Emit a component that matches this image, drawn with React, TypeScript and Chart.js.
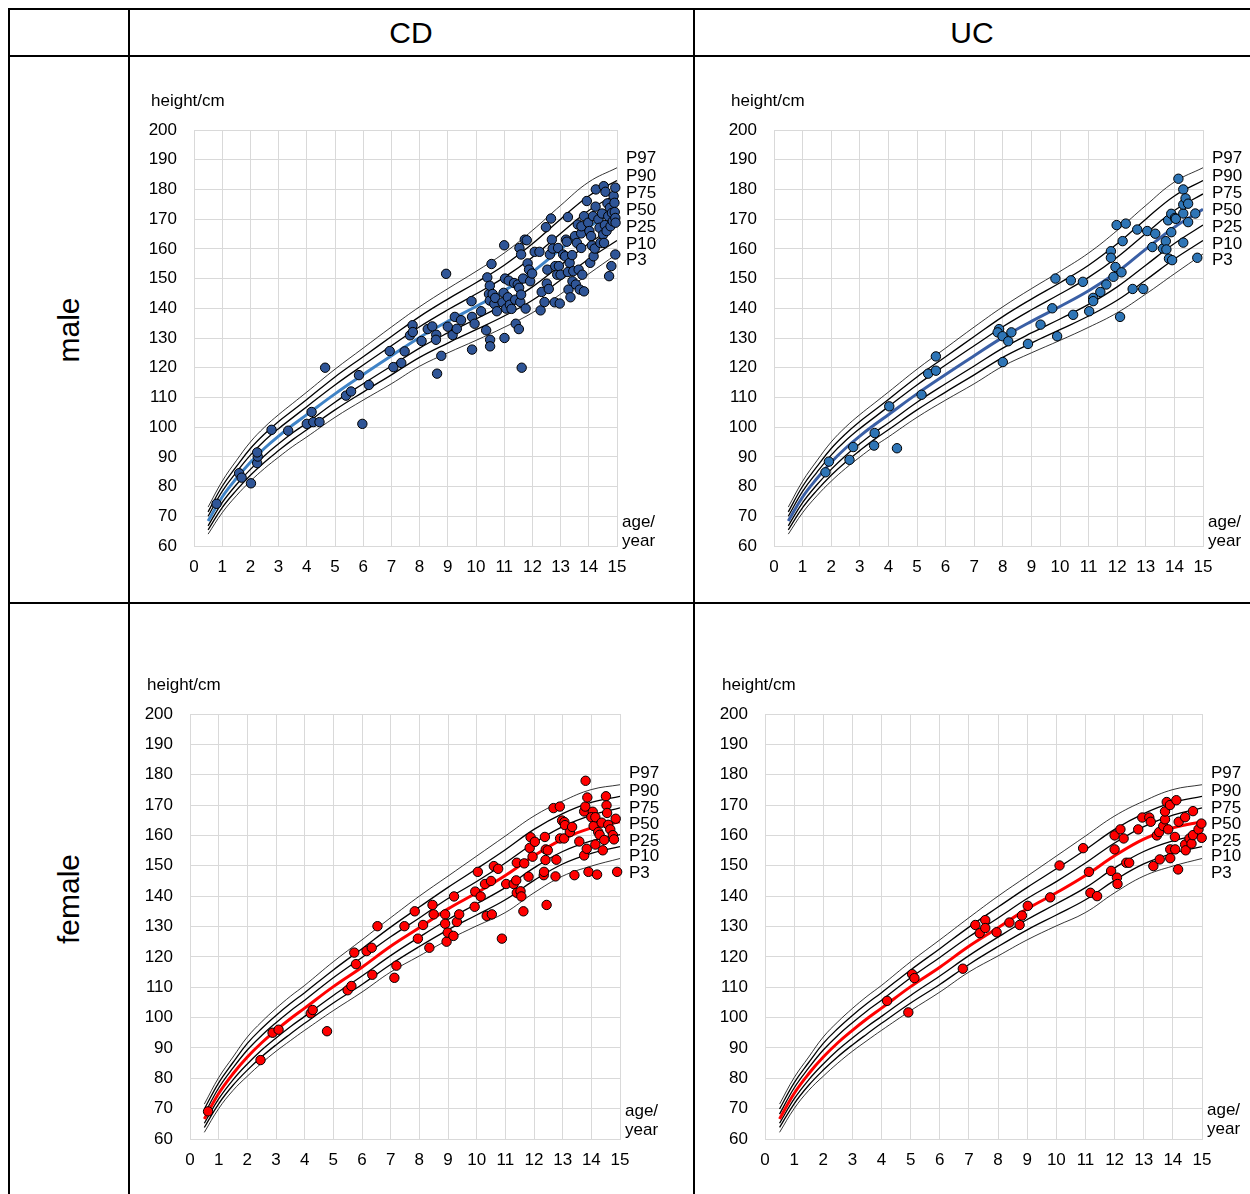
import React, { useEffect, useRef } from "react";
import { Chart, registerables } from "chart.js";
Chart.register(...registerables);

const FONT = "'Liberation Sans', Arial, Helvetica, sans-serif";

// ---------- data ----------
const percentileNames = ["P97", "P90", "P75", "P50", "P25", "P10", "P3"];
const growthAges = [0.5, 1, 1.5, 2, 2.5, 3, 3.5, 4, 5, 6, 7, 8, 9, 10, 11, 12, 13, 14, 15];

const maleP97 = [73.1, 81.8, 88.7, 95.0, 100.0, 104.2, 108.0, 111.8, 119.5, 126.6, 133.7, 140.5, 146.6, 152.4, 158.6, 166.2, 174.6, 182.5, 187.3];
const maleP90 = [71.5, 80.1, 86.7, 92.8, 97.7, 101.9, 105.6, 109.3, 116.9, 123.7, 130.5, 137.2, 143.1, 148.6, 154.5, 161.7, 170.0, 177.8, 183.0];
const maleP75 = [70.0, 78.4, 84.8, 90.6, 95.4, 99.5, 103.2, 106.9, 114.2, 120.9, 127.4, 133.8, 139.5, 144.8, 150.4, 157.2, 165.2, 172.9, 178.5];
const maleP50 = [68.4, 76.5, 82.7, 88.2, 92.9, 97.0, 100.7, 104.2, 111.2, 117.7, 124.0, 130.2, 135.6, 140.6, 145.9, 152.2, 159.9, 167.3, 173.3];
const maleP25 = [66.8, 74.6, 80.6, 85.8, 90.4, 94.4, 98.1, 101.4, 108.4, 114.6, 120.6, 126.6, 131.7, 136.4, 141.3, 147.2, 154.5, 161.8, 168.0];
const maleP10 = [65.4, 72.9, 78.7, 83.8, 88.2, 92.1, 95.8, 99.1, 105.8, 111.8, 117.6, 123.5, 128.3, 132.8, 137.4, 142.7, 149.5, 156.6, 162.8];
const maleP3 = [64.0, 71.2, 76.9, 81.8, 86.1, 89.9, 93.5, 96.7, 103.3, 109.1, 114.6, 120.5, 125.0, 129.2, 133.6, 138.5, 144.8, 151.6, 158.3];

const femaleP97 = [71.5, 80.2, 87.0, 93.6, 98.6, 103.0, 107.0, 110.6, 118.4, 125.6, 132.9, 140.0, 146.6, 153.2, 159.8, 166.4, 171.3, 175.1, 176.7];
const femaleP90 = [69.9, 78.5, 85.2, 91.5, 96.4, 100.7, 104.6, 108.2, 115.7, 122.7, 129.8, 136.4, 142.9, 149.0, 155.3, 162.0, 167.2, 170.9, 172.9];
const femaleP75 = [68.2, 76.8, 83.4, 89.3, 94.1, 98.3, 102.2, 105.7, 113.1, 119.8, 126.6, 132.8, 139.2, 144.8, 150.9, 157.5, 162.9, 166.7, 169.1];
const femaleP50 = [66.6, 75.0, 81.5, 87.0, 91.7, 95.8, 99.6, 103.1, 110.2, 116.6, 123.5, 129.6, 135.8, 141.1, 146.8, 153.3, 158.8, 162.5, 164.5];
const femaleP25 = [65.2, 73.2, 79.5, 84.7, 89.3, 93.3, 97.0, 100.4, 107.3, 113.7, 120.4, 126.5, 132.3, 137.5, 142.8, 149.3, 154.7, 158.2, 160.3];
const femaleP10 = [63.8, 71.6, 77.7, 82.7, 87.1, 91.0, 94.6, 98.1, 104.8, 110.9, 117.5, 123.4, 128.9, 133.8, 138.8, 145.2, 150.6, 154.1, 156.3];
const femaleP3 = [62.2, 70.0, 76.0, 80.7, 85.0, 88.9, 92.4, 95.8, 102.3, 108.4, 115.0, 120.3, 125.6, 130.2, 134.6, 141.1, 146.6, 149.9, 152.4];

// label anchor heights (cm) for P97..P3
const maleLabelHeights = [190.4, 184.5, 178.8, 172.9, 167.2, 161.6, 156.2];
const femaleLabelHeights = [180.4, 174.6, 169.0, 163.6, 158.2, 153.0, 147.5];

// CD male patients
const cdMaleAge = [0.8, 1.6, 1.69, 2.02, 2.24, 2.26, 2.24, 2.75, 3.34, 4.0, 4.17, 4.23, 4.45, 4.65, 5.39, 5.57, 5.85, 5.97, 6.2, 6.94,
  7.07, 7.35, 7.47, 7.66, 7.75, 7.76, 8.07, 8.29, 8.45, 8.59, 8.58, 8.62, 8.77, 8.94, 9.0, 9.17, 9.25, 9.32, 9.47, 9.84,
  9.86, 9.86, 9.95, 10.18, 10.36, 10.4, 10.46, 10.49, 10.49, 10.5, 10.5, 10.55, 10.59, 10.65, 10.68, 10.74, 10.94, 10.98, 11.0, 11.01,
  11.03, 11.07, 11.13, 11.16, 11.2, 11.26, 11.35, 11.39, 11.41, 11.48, 11.52, 11.53, 11.54, 11.57, 11.6, 11.6, 11.62, 11.67, 11.73, 11.76,
  11.8, 11.83, 11.88, 11.92, 11.99, 12.08, 12.25, 12.29, 12.33, 12.43, 12.48, 12.51, 12.53, 12.58, 12.62, 12.66, 12.69, 12.72, 12.79, 12.81,
  12.88, 12.91, 12.94, 12.97, 13.0, 13.09, 13.16, 13.19, 13.22, 13.26, 13.26, 13.28, 13.32, 13.35, 13.41, 13.42, 13.45, 13.51, 13.54, 13.58,
  13.61, 13.64, 13.68, 13.73, 13.73, 13.74, 13.77, 13.83, 13.83, 13.93, 13.98, 14.02, 14.05, 14.08, 14.11, 14.15, 14.17, 14.21, 14.24, 14.25,
  14.34, 14.38, 14.41, 14.47, 14.51, 14.53, 14.54, 14.57, 14.59, 14.63, 14.66, 14.69, 14.72, 14.75, 14.77, 14.8, 14.82, 14.85, 14.88, 14.91,
  14.92, 14.94, 14.94, 14.94, 14.95];
const cdMaleHeight = [74.2, 84.5, 83.0, 81.1, 87.9, 90.1, 91.5, 99.1, 98.8, 101.1, 105.1, 101.7, 101.7, 120.0, 110.6, 112.0, 117.5, 101.1, 114.2, 125.6,
  120.2, 121.6, 125.5, 130.9, 134.3, 132.0, 129.0, 133.0, 133.9, 131.1, 129.4, 118.0, 124.0, 151.6, 133.8, 131.0, 137.1, 133.1, 136.0, 142.4,
  137.1, 126.1, 134.8, 139.0, 132.6, 150.4, 144.8, 147.6, 142.6, 129.4, 127.2, 154.9, 144.8, 141.5, 143.5, 139.0, 142.0, 145.2, 161.2, 130.0,
  150.0, 139.9, 143.7, 149.3, 141.2, 139.8, 148.5, 142.9, 134.8, 148.0, 133.0, 146.9, 160.3, 142.1, 158.1, 144.6, 120.0, 150.0, 163.1, 139.9,
  162.9, 155.1, 153.0, 149.1, 151.7, 159.0, 159.0, 139.3, 145.5, 142.1, 167.3, 148.3, 153.0, 146.5, 158.1, 170.2, 163.1, 160.1, 142.0, 154.2,
  151.3, 160.3, 154.2, 141.6, 151.3, 158.1, 157.5, 163.1, 162.4, 170.7, 152.2, 146.3, 155.3, 143.7, 157.9, 149.1, 152.5, 164.3, 148.0, 162.0,
  168.2, 153.0, 146.3, 165.2, 160.3, 167.6, 151.3, 145.7, 171.0, 176.1, 168.8, 166.0, 155.3, 164.3, 161.1, 171.0, 157.5, 160.1, 174.2, 180.0,
  169.9, 167.1, 162.0, 171.9, 164.8, 181.1, 162.0, 168.0, 179.2, 166.0, 175.3, 171.0, 150.8, 173.8, 167.6, 154.2, 172.1, 169.3, 177.8, 175.5,
  172.4, 180.6, 170.4, 158.1, 168.8];

// UC male patients
const ucMaleAge = [1.8, 1.92, 2.64, 2.77, 3.5, 3.52, 4.03, 4.3, 5.16, 5.39, 5.66, 5.66, 7.87, 7.82, 7.99, 8.19, 8.3, 8.0, 8.88, 9.32,
  9.73, 9.84, 9.9, 10.38, 10.46, 10.8, 11.02, 11.16, 11.16, 11.41, 11.62, 11.78, 11.78, 11.87, 11.94, 11.98, 12.1, 12.15, 12.19, 12.3,
  12.54, 12.7, 12.91, 13.05, 13.23, 13.33, 13.6, 13.7, 13.72, 13.78, 13.81, 13.89, 13.89, 13.92, 14.02, 14.05, 14.14, 14.31, 14.31, 14.31,
  14.31, 14.39, 14.48, 14.48, 14.73, 14.8];
const ucMaleHeight = [84.8, 88.4, 89.0, 93.3, 93.8, 98.0, 107.0, 92.9, 110.9, 118.0, 123.8, 119.0, 133.0, 131.9, 130.6, 128.9, 131.9, 121.9, 128.0, 134.5,
  140.0, 150.0, 130.6, 149.4, 137.8, 148.9, 139.0, 143.5, 142.4, 145.5, 148.0, 159.2, 157.0, 150.6, 153.9, 168.0, 137.1, 152.1, 162.6, 168.5,
  146.5, 166.5, 146.5, 166.0, 160.6, 165.1, 160.1, 162.6, 159.8, 169.6, 156.7, 171.8, 165.6, 156.2, 170.4, 170.1, 183.6, 180.0, 171.9, 162.1,
  174.9, 177.0, 175.2, 169.0, 171.9, 157.0];

// CD female patients
const cdFemaleAge = [0.63, 2.46, 2.88, 3.09, 4.21, 4.28, 4.78, 5.5, 5.63, 5.73, 5.79, 6.16, 6.34, 6.36, 6.54, 7.13, 7.2, 7.48, 7.84, 7.95,
  8.13, 8.35, 8.46, 8.5, 8.9, 8.9, 8.95, 8.99, 9.19, 9.21, 9.31, 9.39, 9.93, 9.95, 10.04, 10.14, 10.29, 10.35, 10.5, 10.53,
  10.6, 10.75, 10.88, 11.03, 11.29, 11.38, 11.4, 11.4, 11.53, 11.56, 11.63, 11.66, 11.81, 11.85, 11.88, 11.95, 12.03, 12.34, 12.35, 12.38,
  12.4, 12.41, 12.44, 12.48, 12.68, 12.78, 12.75, 12.9, 12.91, 12.98, 13.05, 13.06, 13.08, 13.25, 13.33, 13.41, 13.58, 13.75, 13.75, 13.79,
  13.8, 13.84, 13.86, 13.9, 14.05, 14.0, 14.08, 14.14, 14.14, 14.2, 14.24, 14.29, 14.36, 14.4, 14.45, 14.51, 14.53, 14.55, 14.59, 14.66,
  14.75, 14.79, 14.85, 14.9];
const cdFemaleHeight = [69.1, 86.0, 95.0, 96.0, 101.4, 102.5, 95.5, 109.0, 110.4, 121.4, 117.6, 121.9, 123.0, 114.1, 130.1, 113.1, 117.1, 130.1, 135.0, 126.0,
  130.5, 123.0, 137.1, 134.0, 134.0, 130.9, 125.0, 128.0, 126.9, 139.9, 131.5, 134.0, 136.5, 141.5, 148.0, 139.9, 144.0, 133.5, 145.0, 134.0,
  149.9, 149.0, 126.0, 144.0, 144.0, 145.2, 151.0, 141.1, 141.6, 139.9, 135.0, 150.8, 146.4, 155.9, 159.4, 153.0, 157.9, 146.9, 148.0, 159.5,
  151.9, 155.4, 137.1, 155.1, 169.0, 152.0, 146.5, 169.5, 159.0, 164.9, 159.0, 164.4, 163.4, 161.1, 162.8, 146.9, 158.0, 153.4, 167.9, 169.5,
  178.0, 155.6, 172.5, 148.0, 167.8, 166.0, 163.1, 166.0, 157.0, 147.1, 161.1, 160.2, 164.2, 155.1, 158.5, 172.9, 169.9, 167.4, 163.5, 162.0,
  160.1, 158.7, 165.5, 148.0];

// UC female patients
const ucFemaleAge = [4.19, 4.92, 5.05, 5.13, 6.79, 7.22, 7.37, 7.56, 7.56, 7.95, 8.39, 8.74, 8.82, 9.02, 9.79, 10.11, 10.92, 11.12, 11.17, 11.4,
  11.88, 12.08, 12.1, 12.0, 12.0, 12.2, 12.31, 12.4, 12.5, 12.81, 12.95, 13.19, 13.24, 13.33, 13.45, 13.53, 13.55, 13.67, 13.73, 13.73,
  13.79, 13.84, 13.9, 13.91, 13.91, 14.07, 14.08, 14.12, 14.18, 14.2, 14.42, 14.42, 14.44, 14.57, 14.64, 14.69, 14.69, 14.88, 14.98, 14.99];
const ucFemaleHeight = [105.5, 101.7, 114.3, 113.0, 116.1, 130.5, 127.8, 132.1, 129.5, 128.1, 131.3, 130.5, 133.6, 136.8, 139.6, 150.1, 155.8, 148.0, 141.1, 140.0,
  148.3, 146.1, 144.0, 155.4, 160.0, 162.0, 159.0, 151.0, 151.0, 162.0, 165.9, 165.9, 164.5, 149.9, 160.0, 161.1, 152.1, 163.1, 165.3, 167.9,
  171.0, 162.0, 170.0, 155.4, 152.5, 159.5, 155.4, 171.6, 148.8, 164.5, 166.0, 157.0, 155.1, 159.0, 157.3, 168.0, 160.1, 162.0, 163.9, 159.2];

// ---------- chart factory ----------
type Spec = {
  left: number; top: number; width: number; height: number;
  plotL: number; plotT: number; plotR: number; plotB: number;
  curves: number[][];
  labelHeights: number[];
  ages: number[]; heights: number[];
  pointColor: string; medianColor: string;
  ageDy: number;
};

function buildConfig(s: Spec): any {
  const curveWidths = [0.8, 1.3, 1.3, 3, 1.3, 1.3, 0.8];
  const curveSets = s.curves.map((arr, i) => ({
    type: "line",
    label: percentileNames[i],
    data: growthAges.map((a, k) => ({ x: a, y: arr[k] })),
    borderColor: i === 3 ? s.medianColor : "#000000",
    borderWidth: curveWidths[i],
    pointRadius: 0,
    fill: false,
    tension: 0.4,
    order: i === 3 ? 1 : 2,
  }));
  const pts = {
    type: "scatter",
    label: "patients",
    data: s.ages.map((a, k) => ({ x: a, y: s.heights[k] })),
    backgroundColor: s.pointColor,
    borderColor: "#000000",
    borderWidth: 1,
    pointRadius: 4.7,
    clip: false,
    order: 0,
  };
  const textPlugin = {
    id: "texts",
    afterDraw(chart: any) {
      const { ctx, chartArea } = chart;
      const ys = chart.scales.y;
      ctx.save();
      ctx.fillStyle = "#000";
      ctx.font = `17px ${FONT}`;
      ctx.textAlign = "left";
      ctx.textBaseline = "middle";
      ctx.fillText("height/cm", chartArea.left - 43, chartArea.top - 29);
      s.labelHeights.forEach((h, i) => {
        ctx.fillText(percentileNames[i], chartArea.right + 9, ys.getPixelForValue(h));
      });
      ctx.fillText("age/", chartArea.right + 5, chartArea.bottom - 24 - s.ageDy);
      ctx.fillText("year", chartArea.right + 5, chartArea.bottom - 5 - s.ageDy);
      ctx.restore();
    },
  };
  const w = s.width, h = s.height;
  const yW = s.plotL - s.left;
  const xH = s.top + h - s.plotB;
  return {
    type: "scatter",
    data: { datasets: [pts, ...curveSets] },
    options: {
      responsive: false,
      animation: false,
      devicePixelRatio: 1,
      layout: { padding: { left: 0, top: s.plotT - s.top, right: s.left + w - s.plotR, bottom: 0 } },
      plugins: { legend: { display: false }, tooltip: { enabled: false }, title: { display: false } },
      scales: {
        x: {
          type: "linear", min: 0, max: 15,
          afterFit: (sc: any) => { sc.height = xH; },
          ticks: { stepSize: 1, autoSkip: false, maxRotation: 0, color: "#000", padding: 11, font: { family: FONT, size: 17 } },
          grid: { color: "#d9d9d9", lineWidth: 1, drawTicks: false },
          border: { color: "#d9d9d9" },
        },
        y: {
          type: "linear", min: 60, max: 200,
          afterFit: (sc: any) => { sc.width = yW; },
          ticks: { stepSize: 10, autoSkip: false, color: "#000", padding: 17, font: { family: FONT, size: 17 } },
          grid: { color: "#d9d9d9", lineWidth: 1, drawTicks: false },
          border: { color: "#d9d9d9" },
        },
      },
    },
    plugins: [textPlugin],
  };
}

function GrowthChart({ spec }: { spec: Spec }) {
  const ref = useRef<HTMLCanvasElement | null>(null);
  useEffect(() => {
    if (!ref.current) return;
    const c = new Chart(ref.current, buildConfig(spec));
    return () => c.destroy();
  }, []);
  return (
    <canvas
      ref={ref}
      width={spec.width}
      height={spec.height}
      style={{ position: "absolute", left: spec.left, top: spec.top, width: spec.width, height: spec.height }}
    />
  );
}

const maleCurves = [maleP97, maleP90, maleP75, maleP50, maleP25, maleP10, maleP3];
const femaleCurves = [femaleP97, femaleP90, femaleP75, femaleP50, femaleP25, femaleP10, femaleP3];

const specs: Spec[] = [
  { left: 131, top: 58, width: 561, height: 543, plotL: 194, plotT: 130, plotR: 617, plotB: 546,
    curves: maleCurves, labelHeights: maleLabelHeights, ages: cdMaleAge, heights: cdMaleHeight,
    pointColor: "#2f5597", medianColor: "#3f83c6", ageDy: 0 },
  { left: 696, top: 58, width: 554, height: 543, plotL: 774, plotT: 130, plotR: 1203, plotB: 546,
    curves: maleCurves, labelHeights: maleLabelHeights, ages: ucMaleAge, heights: ucMaleHeight,
    pointColor: "#2e75b6", medianColor: "#3a5fa5", ageDy: 0 },
  { left: 131, top: 605, width: 561, height: 589, plotL: 190, plotT: 714, plotR: 620, plotB: 1139,
    curves: femaleCurves, labelHeights: femaleLabelHeights, ages: cdFemaleAge, heights: cdFemaleHeight,
    pointColor: "#ff0000", medianColor: "#ff0000", ageDy: 4 },
  { left: 696, top: 605, width: 554, height: 589, plotL: 765, plotT: 714, plotR: 1202, plotB: 1139,
    curves: femaleCurves, labelHeights: femaleLabelHeights, ages: ucFemaleAge, heights: ucFemaleHeight,
    pointColor: "#ff0000", medianColor: "#ff0000", ageDy: 5 },
];

const lineStyle = (l: number, t: number, w: number, h: number): React.CSSProperties => ({
  position: "absolute", left: l, top: t, width: w, height: h, background: "#000",
});

const textStyle = (cx: number, cy: number, rotate: boolean): React.CSSProperties => ({
  position: "absolute", left: cx - 100, top: cy - 20, width: 200, height: 40,
  display: "flex", alignItems: "center", justifyContent: "center",
  fontFamily: FONT, fontSize: 30, color: "#000", lineHeight: "40px",
  transform: rotate ? "rotate(-90deg)" : undefined,
});

export default function App() {
  return (
    <div style={{ position: "absolute", left: 0, top: 0, width: 1250, height: 1194, background: "#fff", overflow: "hidden" }}>
      {/* table grid */}
      <div style={lineStyle(8, 8, 1250, 2)} />
      <div style={lineStyle(8, 55, 1250, 2)} />
      <div style={lineStyle(8, 602, 1250, 2)} />
      <div style={lineStyle(8, 8, 2, 1194)} />
      <div style={lineStyle(128, 8, 2, 1194)} />
      <div style={lineStyle(693, 8, 2, 1194)} />
      {/* headers */}
      <div style={textStyle(411, 33, false)}>CD</div>
      <div style={textStyle(972, 33, false)}>UC</div>
      <div style={textStyle(69, 330, true)}>male</div>
      <div style={textStyle(69, 899, true)}>female</div>
      {specs.map((s, i) => (
        <GrowthChart key={i} spec={s} />
      ))}
    </div>
  );
}
